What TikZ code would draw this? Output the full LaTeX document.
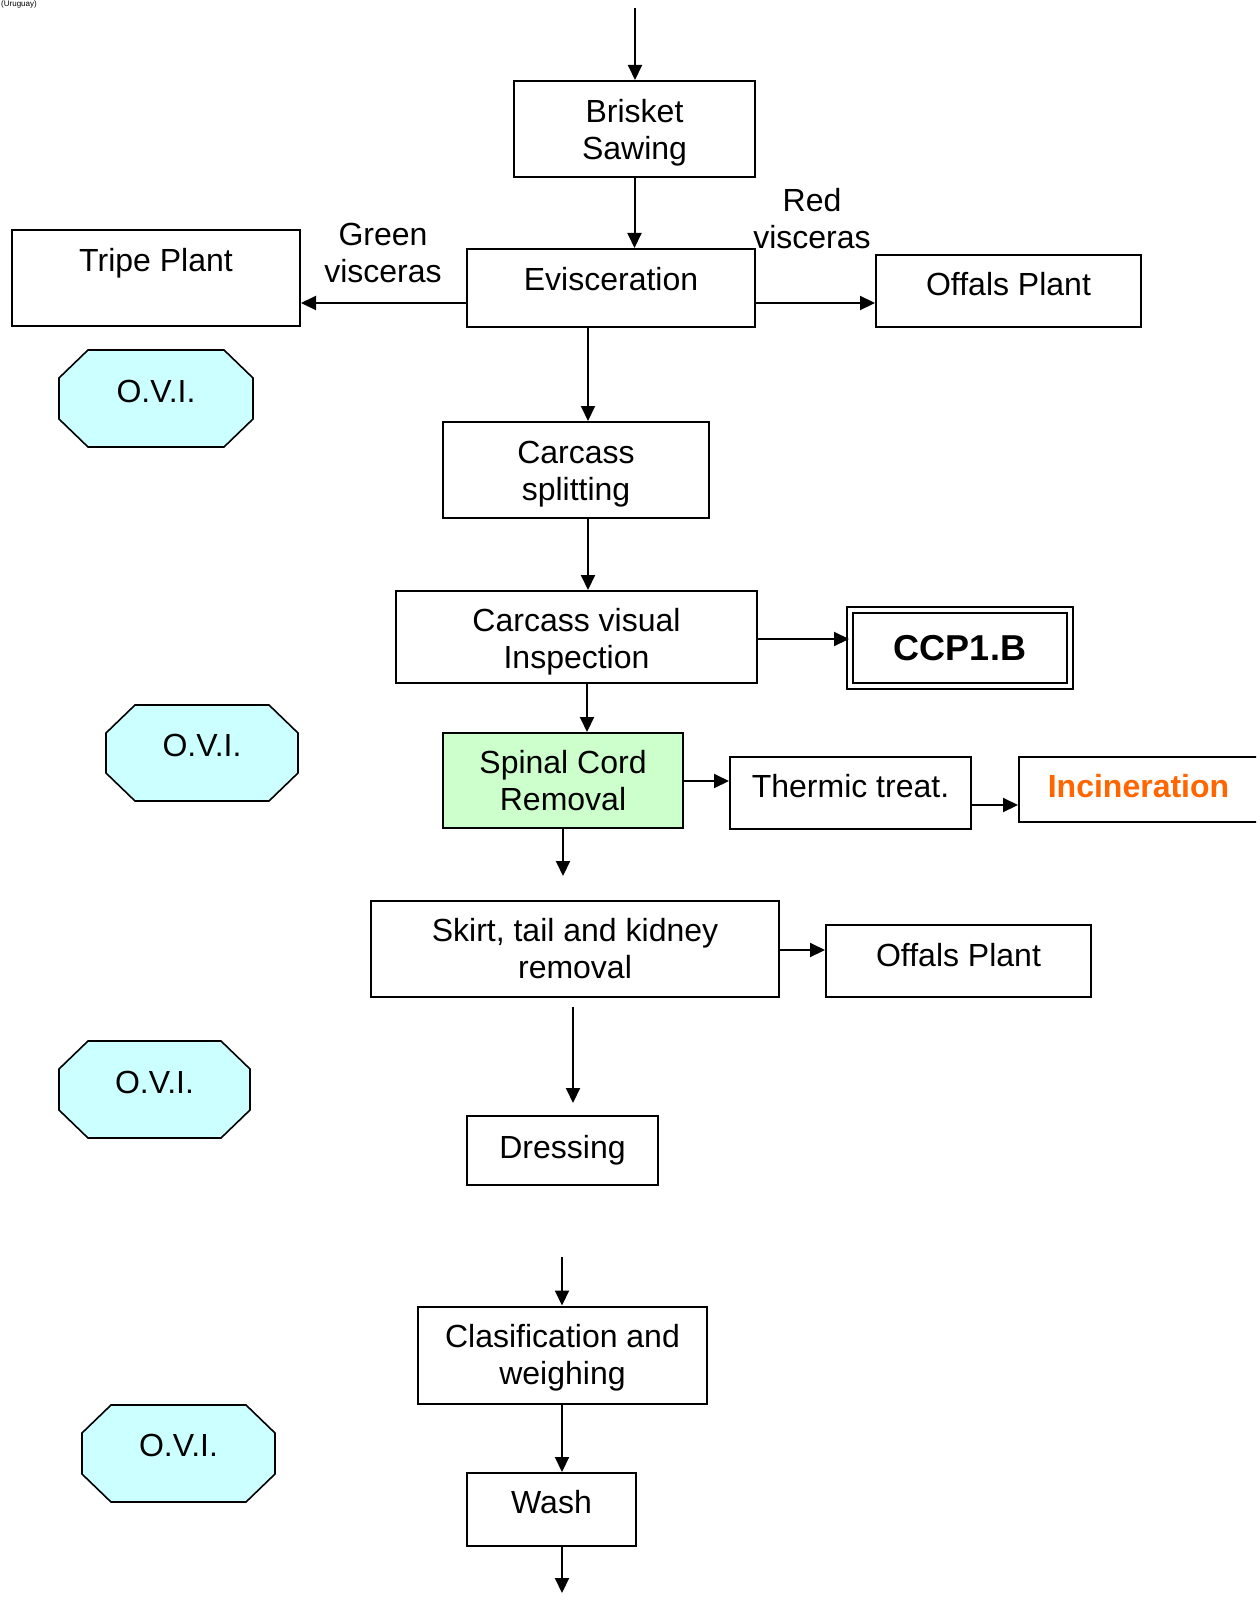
\documentclass[tikz,border=0pt]{standalone}
\usepackage{fontspec}
\setmainfont{Liberation Sans}
\usetikzlibrary{arrows.meta}
\definecolor{oviblue}{HTML}{CCFFFF}
\definecolor{cordgreen}{HTML}{CCFFCC}
\definecolor{burnorange}{HTML}{FF6600}

% tall strut that lowers a two-line label inside its box
\newcommand\lowerby[1]{\rule{0pt}{#1pt}}

% inspection point: octagon with cut corners, label node on top
% #1 name, #2 centre x, #3 centre y, #4 width, #5 height, #6 text depth
\newcommand\ovipoint[6]{%
  \draw[ovishape]
    ({#2-#4/2+29},{#3-#5/2}) -- ({#2+#4/2-29},{#3-#5/2}) --
    ({#2+#4/2},{#3-#5/2+28}) -- ({#2+#4/2},{#3+#5/2-28}) --
    ({#2+#4/2-29},{#3+#5/2}) -- ({#2-#4/2+29},{#3+#5/2}) --
    ({#2-#4/2},{#3+#5/2-28}) -- ({#2-#4/2},{#3-#5/2+28}) -- cycle;
  \node[ovitext, text depth=#6, minimum width=#4pt, minimum height=#5pt] (#1) at (#2,#3) {O.V.I.};
}

\begin{document}
\begin{tikzpicture}[x=1pt,y=-1pt,
  proc/.style={draw=black, line width=2pt, fill=white, inner sep=0pt,
    font=\fontsize{32}{37}\selectfont, align=center},
  oneline/.style={text height=23pt, text depth=#1},
  lbl/.style={font=\fontsize{32}{37}\selectfont, align=center, inner sep=0pt},
  ovishape/.style={draw=black, line width=1.6pt, fill=oviblue},
  ovitext/.style={inner sep=0pt, font=\fontsize{32}{37}\selectfont, text height=23pt},
  arr/.style={line width=2pt, -{Triangle[length=15pt,width=14pt]}},
]
\useasboundingbox (0,0) rectangle (1256,1613);
\clip (0,0) rectangle (1256,1613);

% header remnant at the top edge
\node[anchor=north west, inner sep=0pt, font=\fontsize{8}{10}\selectfont] (note) at (1,1) {(Uruguay)};

% main line of process steps
\node[proc, minimum width=241pt, minimum height=96pt] (brisket) at (634.5,129) {\lowerby{30}Brisket\\Sawing};
\node[proc, oneline=19pt, minimum width=288pt, minimum height=78pt] (evisc) at (611,288) {Evisceration};
\node[proc, oneline=37pt, minimum width=288pt, minimum height=96pt] (tripe) at (156,278) {Tripe Plant};
\node[proc, oneline=14pt, minimum width=265pt, minimum height=72pt] (offals1) at (1008.5,291) {Offals Plant};
\node[lbl] (green) at (383,253) {Green\\visceras};
\node[lbl] (red) at (812,218.5) {Red\\visceras};

\node[proc, minimum width=266pt, minimum height=96pt] (split) at (576,470) {\lowerby{30}Carcass\\splitting};
\node[proc, minimum width=361pt, minimum height=92pt] (cvi) at (576.5,637) {\lowerby{33}Carcass visual\\Inspection};
\node[draw=black, line width=2pt, double=white, double distance=4pt, inner sep=0pt,
  minimum width=220pt, minimum height=76pt, text height=26pt, text depth=2pt,
  font=\fontsize{36}{40}\selectfont\bfseries] (ccp) at (960,648) {CCP1.B};

\node[proc, fill=cordgreen, minimum width=240pt, minimum height=95pt] (spinal) at (563,780.5) {Spinal Cord\\Removal};
\node[proc, oneline=14pt, minimum width=241pt, minimum height=72pt] (thermic) at (850.5,793) {Thermic treat.};
\node[proc, text height=23pt, text depth=8pt, minimum width=239pt, minimum height=65pt,
  text=burnorange, font=\fontsize{32}{37}\selectfont\bfseries] (incin) at (1138.5,789.5) {Incineration};

\node[proc, minimum width=408pt, minimum height=96pt] (skirt) at (575,949) {Skirt, tail and kidney\\removal};
\node[proc, oneline=13pt, minimum width=265pt, minimum height=72pt] (offals2) at (958.5,961) {Offals Plant};
\node[proc, oneline=7pt, minimum width=191pt, minimum height=69pt] (dress) at (562.5,1150.5) {Dressing};
\node[proc, minimum width=289pt, minimum height=97pt] (clas) at (562.5,1355) {\lowerby{29}Clasification and\\weighing};
\node[proc, oneline=16pt, minimum width=169pt, minimum height=73pt] (wash) at (551.5,1509.5) {Wash};

% official veterinary inspection points
\ovipoint{ovi1}{156}{398.5}{194}{97}{16pt}
\ovipoint{ovi2}{202}{753}{192}{96}{17pt}
\ovipoint{ovi3}{154.5}{1089.5}{191}{97}{16pt}
\ovipoint{ovi4}{178.5}{1453.5}{193}{97}{18pt}

% guide coordinates for connectors
\coordinate (in0) at (635,8);
\coordinate (yside) at (0,303);
\coordinate (xcut) at (588,0);
\coordinate (xspin) at (587,0);
\coordinate (yccp) at (0,639);
\coordinate (yther) at (0,781);
\coordinate (yinc) at (0,805);
\coordinate (spinout) at (563,876);
\coordinate (yoff) at (0,950);
\coordinate (skirtout) at (573,1007);
\coordinate (dressin) at (573,1103);
\coordinate (clasin) at (562,1257);
\coordinate (xwash) at (562,0);
\coordinate (washout) at (562,1593);

% connectors
\draw[arr] (in0) -- (in0 |- brisket.north);
\draw[arr] (brisket.south) -- (brisket.south |- evisc.north);
\draw[arr] (evisc.west |- yside) -- (tripe.east |- yside);
\draw[arr] (evisc.east |- yside) -- (offals1.west |- yside);
\draw[arr] (evisc.south -| xcut) -- (split.north -| xcut);
\draw[arr] (split.south -| xcut) -- (cvi.north -| xcut);
\draw[arr] (cvi.east |- yccp) -- (ccp.west |- yccp);
\draw[arr] (cvi.south -| xspin) -- (spinal.north -| xspin);
\draw[arr] (spinal.east |- yther) -- (thermic.west |- yther);
\draw[arr] (thermic.east |- yinc) -- (incin.west |- yinc);
\draw[arr] (spinal.south -| spinout) -- (spinout);
\draw[arr] (skirt.east |- yoff) -- (offals2.west |- yoff);
\draw[arr] (skirtout) -- (dressin);
\draw[arr] (clasin) -- (clasin |- clas.north);
\draw[arr] (clas.south -| xwash) -- (wash.north -| xwash);
\draw[arr] (wash.south -| xwash) -- (washout);
\end{tikzpicture}
\end{document}
